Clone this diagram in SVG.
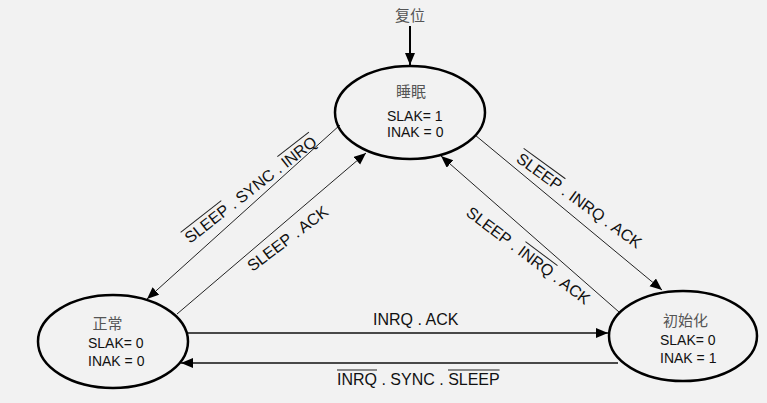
<svg xmlns="http://www.w3.org/2000/svg" width="767" height="403" viewBox="0 0 767 403">
<style>
.st{fill:none;stroke:#000;stroke-width:2.5}
.cn{font-family:"Noto Sans CJK SC","Noto Sans",sans-serif;font-size:15px;fill:#555;text-anchor:middle}
.t{font-family:"Liberation Sans",Arial,sans-serif;font-size:14px;fill:#111}
.lb{font-family:"Liberation Sans",Arial,sans-serif;font-size:16px;fill:#111}
.ln{stroke:#222;stroke-width:1;fill:none}
.lh{stroke:#111;stroke-width:1.3;fill:none}
.ob{stroke:#222;stroke-width:1}
</style>
<defs>
<marker id="ah" markerUnits="userSpaceOnUse" markerWidth="13" markerHeight="11" refX="12" refY="5" orient="auto" viewBox="0 0 13 11">
<path d="M0,0 L12,5 L0,10 z" fill="#000"/>
</marker>
</defs>
<rect width="767" height="403" fill="#f2f2f2"/>

<g id="connectors">
<line x1="410" y1="26" x2="410" y2="65" stroke="#000" stroke-width="2" marker-end="url(#ah)"/>
<line class="ln" x1="340" y1="125" x2="147" y2="299" marker-end="url(#ah)"/>
<line class="ln" x1="177" y1="314" x2="366" y2="153" marker-end="url(#ah)"/>
<line class="ln" x1="475" y1="135" x2="662" y2="290" marker-end="url(#ah)"/>
<line class="ln" x1="619" y1="312" x2="441" y2="156" marker-end="url(#ah)"/>
<line class="lh" x1="187" y1="333" x2="608" y2="333" marker-end="url(#ah)"/>
<line class="lh" x1="618" y1="363" x2="181" y2="363" marker-end="url(#ah)"/>

<text class="cn" x="410" y="21">复位</text>

<g transform="translate(254,194) rotate(-38)">
<text class="lb" x="0" y="0" text-anchor="middle">SLEEP . SYNC . INRQ</text>
<line class="ob" x1="-81.4" y1="-15" x2="-29.8" y2="-15"/>
<line class="ob" x1="41.4" y1="-15" x2="81.4" y2="-15"/>
</g>
<g transform="translate(291,243) rotate(-37)">
<text class="lb" x="0" y="0" text-anchor="middle">SLEEP . ACK</text>
</g>
<g transform="translate(576,205) rotate(36)">
<text class="lb" x="0" y="0" text-anchor="middle">SLEEP . INRQ . ACK</text>
<line class="ob" x1="-75.6" y1="-15" x2="-24" y2="-15"/>
</g>
<g transform="translate(525,260) rotate(37)">
<text class="lb" x="0" y="0" text-anchor="middle">SLEEP . INRQ . ACK</text>
<line class="ob" x1="-10.7" y1="-15" x2="29.4" y2="-15"/>
</g>
<text class="lb" x="373" y="325">INRQ . ACK</text>
<g>
<text class="lb" x="337" y="385">INRQ . SYNC . SLEEP</text>
<line class="ob" x1="337" y1="370" x2="377" y2="370"/>
<line class="ob" x1="448" y1="370" x2="499.6" y2="370"/>
</g>
</g>

<g id="sleep">
<ellipse class="st" cx="410" cy="112.5" rx="75" ry="46.5"/>
<text class="cn" x="411" y="97">睡眠</text>
<text class="t" x="387" y="121">SLAK= 1</text>
<text class="t" x="387" y="137">INAK = 0</text>
</g>

<g id="normal">
<ellipse class="st" cx="113" cy="341.5" rx="75" ry="46.5"/>
<text class="cn" x="107.5" y="329">正常</text>
<text class="t" x="88" y="348">SLAK= 0</text>
<text class="t" x="88" y="366">INAK = 0</text>
</g>

<g id="init">
<ellipse class="st" cx="683" cy="336" rx="74" ry="45"/>
<text class="cn" x="685.5" y="326">初始化</text>
<text class="t" x="660" y="345">SLAK= 0</text>
<text class="t" x="660" y="363">INAK = 1</text>
</g>
</svg>
